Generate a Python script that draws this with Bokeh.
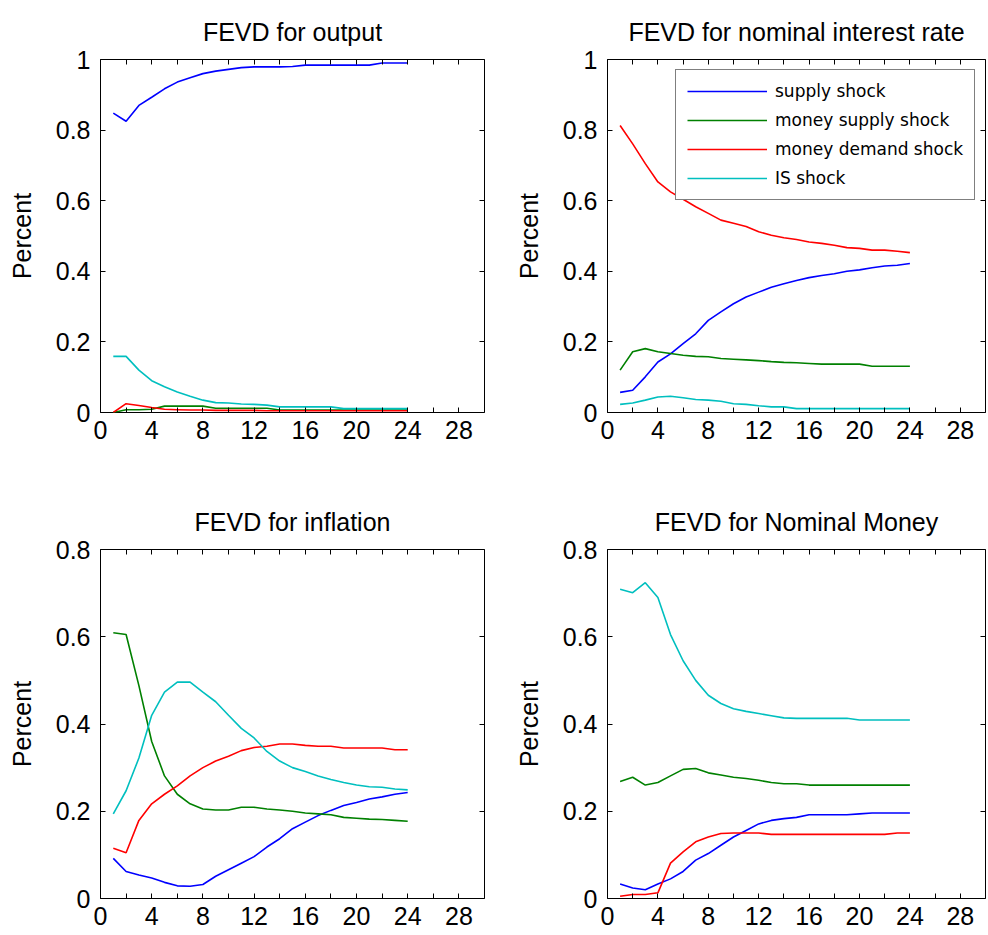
from bokeh.plotting import figure
from bokeh.layouts import column, row
from bokeh.models import FixedTicker, LinearAxis, CustomJSTickFormatter, Range1d
from bokeh.embed import file_html
from bokeh.resources import INLINE

# ---------------- data ----------------
horizon = list(range(1, 25))
shock_names = ["supply shock", "money supply shock", "money demand shock", "IS shock"]
shock_colors = ["#0000ff", "#008000", "#ff0000", "#00bfbf"]

x_ticks = [0, 4, 8, 12, 16, 20, 24, 28]
x_minor_ticks = [2, 6, 10, 14, 18, 22, 26]
y_ticks_top = [0, 0.2, 0.4, 0.6, 0.8, 1]
y_ticks_bottom = [0, 0.2, 0.4, 0.6, 0.8]

# FEVD for output
output_supply = [0.848, 0.825, 0.870, 0.893, 0.917, 0.936, 0.948, 0.960, 0.967, 0.972, 0.977, 0.979,
                 0.979, 0.979, 0.980, 0.984, 0.984, 0.984, 0.984, 0.984, 0.984, 0.990, 0.990, 0.990]
output_money_supply = [0.000, 0.008, 0.008, 0.009, 0.018, 0.018, 0.018, 0.018, 0.012, 0.012, 0.012, 0.012,
                       0.012, 0.007, 0.007, 0.007, 0.007, 0.007, 0.007, 0.007, 0.007, 0.007, 0.007, 0.007]
output_money_demand = [0.000, 0.025, 0.020, 0.014, 0.009, 0.008, 0.007, 0.007, 0.006, 0.006, 0.006, 0.006,
                       0.005, 0.005, 0.005, 0.005, 0.005, 0.005, 0.005, 0.005, 0.005, 0.005, 0.005, 0.005]
output_is = [0.159, 0.159, 0.120, 0.090, 0.073, 0.058, 0.046, 0.035, 0.028, 0.027, 0.024, 0.023,
             0.021, 0.016, 0.016, 0.016, 0.016, 0.016, 0.011, 0.011, 0.011, 0.011, 0.011, 0.011]

# FEVD for nominal interest rate
rate_supply = [0.057, 0.063, 0.101, 0.143, 0.166, 0.195, 0.223, 0.261, 0.285, 0.308, 0.327, 0.341,
               0.355, 0.365, 0.374, 0.382, 0.388, 0.393, 0.400, 0.404, 0.410, 0.415, 0.417, 0.422]
rate_money_supply = [0.120, 0.172, 0.181, 0.172, 0.167, 0.162, 0.159, 0.158, 0.153, 0.151, 0.149, 0.147,
                     0.144, 0.142, 0.141, 0.139, 0.137, 0.137, 0.137, 0.137, 0.131, 0.131, 0.131, 0.131]
rate_money_demand = [0.813, 0.761, 0.705, 0.653, 0.625, 0.604, 0.583, 0.564, 0.545, 0.536, 0.527, 0.512,
                     0.502, 0.495, 0.490, 0.483, 0.479, 0.474, 0.467, 0.465, 0.460, 0.460, 0.457, 0.453]
rate_is = [0.023, 0.027, 0.035, 0.044, 0.046, 0.042, 0.037, 0.035, 0.032, 0.025, 0.023, 0.019,
           0.016, 0.016, 0.011, 0.011, 0.011, 0.011, 0.011, 0.011, 0.011, 0.011, 0.011, 0.011]

# FEVD for inflation
infl_supply = [0.092, 0.062, 0.054, 0.047, 0.037, 0.029, 0.028, 0.032, 0.051, 0.066, 0.081, 0.096,
               0.118, 0.137, 0.160, 0.175, 0.190, 0.202, 0.213, 0.220, 0.228, 0.233, 0.239, 0.243]
infl_money_supply = [0.609, 0.605, 0.488, 0.360, 0.281, 0.239, 0.217, 0.205, 0.203, 0.203, 0.209, 0.209,
                     0.205, 0.203, 0.200, 0.196, 0.194, 0.192, 0.186, 0.184, 0.182, 0.181, 0.179, 0.177]
infl_money_demand = [0.115, 0.105, 0.179, 0.217, 0.239, 0.258, 0.281, 0.300, 0.315, 0.326, 0.339, 0.346,
                     0.349, 0.354, 0.354, 0.351, 0.349, 0.349, 0.345, 0.345, 0.345, 0.345, 0.341, 0.341]
infl_is = [0.194, 0.247, 0.322, 0.420, 0.473, 0.496, 0.496, 0.473, 0.451, 0.420, 0.390, 0.368,
           0.337, 0.315, 0.300, 0.291, 0.281, 0.273, 0.266, 0.260, 0.256, 0.255, 0.251, 0.249]

# FEVD for Nominal Money
money_supply = [0.033, 0.024, 0.020, 0.033, 0.045, 0.062, 0.088, 0.103, 0.122, 0.141, 0.156, 0.171,
                0.179, 0.183, 0.186, 0.192, 0.192, 0.192, 0.192, 0.194, 0.196, 0.196, 0.196, 0.196]
money_money_supply = [0.268, 0.278, 0.260, 0.266, 0.281, 0.296, 0.298, 0.288, 0.283, 0.278, 0.275, 0.271,
                      0.266, 0.263, 0.263, 0.260, 0.260, 0.260, 0.260, 0.260, 0.260, 0.260, 0.260, 0.260]
money_money_demand = [0.005, 0.009, 0.009, 0.013, 0.081, 0.107, 0.130, 0.141, 0.149, 0.150, 0.150, 0.150,
                      0.147, 0.147, 0.147, 0.147, 0.147, 0.147, 0.147, 0.147, 0.147, 0.147, 0.150, 0.150]
money_is = [0.709, 0.701, 0.724, 0.690, 0.605, 0.545, 0.500, 0.466, 0.447, 0.435, 0.429, 0.424,
            0.419, 0.414, 0.413, 0.413, 0.413, 0.413, 0.413, 0.409, 0.409, 0.409, 0.409, 0.409]

AX_FONT = "Liberation Sans"


def make_panel(title, series, ymax, yticks, fw, fh, b_left, b_right, b_top, b_bottom, legend=False):
    p = figure(frame_width=fw, frame_height=fh,
               min_border_left=b_left, min_border_right=b_right,
               min_border_top=b_top, min_border_bottom=b_bottom,
               x_range=Range1d(0, 30), y_range=Range1d(0, ymax),
               output_backend="svg", toolbar_location=None, title=title)
    p.background_fill_color = "white"
    p.border_fill_color = "white"
    p.outline_line_color = "black"
    p.outline_line_width = 1
    p.xgrid.visible = False
    p.ygrid.visible = False

    p.title.text_font = AX_FONT
    p.title.text_font_size = "25px"
    p.title.text_font_style = "normal"
    p.title.text_color = "black"
    p.title.align = "center"
    p.title.standoff = 28

    fmt = CustomJSTickFormatter(code="return String(tick);")
    # extra axes to get the box ticks on top and right
    p.add_layout(LinearAxis(), "above")
    p.add_layout(LinearAxis(), "right")

    for ax in p.xaxis:
        ax.ticker = FixedTicker(ticks=x_ticks, minor_ticks=x_minor_ticks)
    for ax in p.yaxis:
        ax.ticker = FixedTicker(ticks=yticks, minor_ticks=[])
    for ax in p.xaxis + p.yaxis:
        ax.axis_line_color = None
        ax.major_tick_in = 5
        ax.major_tick_out = 0
        ax.minor_tick_in = 5
        ax.minor_tick_out = 0
        ax.major_tick_line_color = "black"
        ax.minor_tick_line_color = "black"
        ax.major_label_text_font = AX_FONT
        ax.major_label_text_font_size = "25px"
        ax.major_label_text_color = "black"
        ax.formatter = fmt

    p.xaxis[1].major_label_standoff = 8
    p.yaxis[0].major_label_standoff = 10
    p.yaxis[0].axis_label = "Percent"
    p.yaxis[0].axis_label_text_font = AX_FONT
    p.yaxis[0].axis_label_text_font_size = "25px"
    p.yaxis[0].axis_label_text_font_style = "normal"
    p.yaxis[0].axis_label_text_color = "black"
    p.yaxis[0].axis_label_standoff = 17
    # no labels on the top / right box axes
    for ax in (p.xaxis[0], p.yaxis[1]):
        ax.major_label_text_font_size = "0px"
        ax.major_label_text_color = None
        ax.major_label_standoff = 0

    for name, vals, col in zip(shock_names, series, shock_colors):
        if legend:
            p.line(horizon, vals, line_color=col, line_width=1.6, legend_label=name)
        else:
            p.line(horizon, vals, line_color=col, line_width=1.6)

    if legend:
        lg = p.legend[0]
        lg.location = (68, 212)
        lg.border_line_color = "black"
        lg.border_line_width = 1
        lg.background_fill_color = "white"
        lg.background_fill_alpha = 1
        lg.padding = 11
        lg.spacing = 9
        lg.margin = 0
        lg.glyph_width = 80
        lg.glyph_height = 20
        lg.label_height = 20
        lg.label_standoff = 8
        lg.label_text_font = "DejaVu Sans"
        lg.label_text_font_size = "17px"
        lg.label_text_color = "black"
    return p


p1 = make_panel("FEVD for output",
                [output_supply, output_money_supply, output_money_demand, output_is],
                1, y_ticks_top, 384, 353, 100, 10, 59, 46)
p2 = make_panel("FEVD for nominal interest rate",
                [rate_supply, rate_money_supply, rate_money_demand, rate_is],
                1, y_ticks_top, 378, 353, 113, 3, 59, 46, legend=True)
p3 = make_panel("FEVD for inflation",
                [infl_supply, infl_money_supply, infl_money_demand, infl_is],
                0.8, y_ticks_bottom, 384, 349, 100, 10, 91, 37)
p4 = make_panel("FEVD for Nominal Money",
                [money_supply, money_money_supply, money_money_demand, money_is],
                0.8, y_ticks_bottom, 378, 349, 113, 3, 91, 37)

layout = column(row(p1, p2), row(p3, p4))

with open("out.html", "w") as f:
    f.write(file_html(layout, INLINE))
